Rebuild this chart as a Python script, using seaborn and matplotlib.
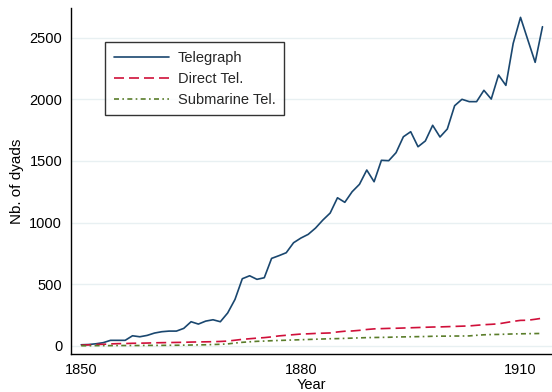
import numpy as np
import pandas as pd
import matplotlib
matplotlib.use("Agg")
import matplotlib.pyplot as plt
import seaborn as sns

years = list(range(1850, 1914))

telegraph = [8, 10, 16, 25, 44, 44, 44, 81, 73, 84,
             103, 114, 119, 119, 141, 195, 176, 200, 211, 195,
             266, 376, 544, 568, 539, 552, 709, 731, 755, 836,
             874, 904, 955, 1020, 1077, 1201, 1164, 1250, 1310, 1426,
             1331, 1505, 1502, 1567, 1696, 1737, 1615, 1662, 1789, 1694,
             1759, 1948, 2000, 1981, 1981, 2073, 2002, 2197, 2113, 2454,
             2665, 2482, 2300, 2589]

direct_tel = [5, 7, 10, 12, 15, 17, 18, 20, 21, 22,
              24, 25, 26, 27, 28, 30, 31, 32, 33, 35,
              38, 45, 52, 57, 62, 66, 72, 80, 85, 90,
              95, 97, 100, 102, 104, 112, 118, 120, 125, 132,
              137, 139, 141, 142, 144, 146, 148, 150, 152, 153,
              155, 157, 159, 161, 166, 171, 174, 178, 188, 198,
              206, 207, 215, 224]

submarine_tel = [0, 0, 1, 1, 1, 2, 2, 2, 2, 3,
                 3, 3, 4, 4, 5, 6, 7, 8, 10, 12,
                 15, 22, 28, 32, 36, 38, 41, 43, 45, 47,
                 49, 51, 53, 55, 57, 58, 60, 62, 64, 66,
                 67, 68, 69, 71, 72, 73, 74, 75, 77, 78,
                 78, 79, 79, 80, 85, 89, 91, 92, 94, 96,
                 97, 98, 99, 100]

series_names = ["Telegraph", "Direct Tel.", "Submarine Tel."]
x_ticks = list(range(1850, 1911, 10))
x_labels = ["1850", "", "", "1880", "", "", "1910"]
y_ticks = [0, 500, 1000, 1500, 2000, 2500]

df = pd.DataFrame({
    "Year": years * 3,
    "dyads": telegraph + direct_tel + submarine_tel,
    "series": [series_names[0]] * len(years)
              + [series_names[1]] * len(years)
              + [series_names[2]] * len(years),
})

sns.set_theme(style="white")
plt.rcParams["font.family"] = ["Liberation Sans", "DejaVu Sans"]

fig = plt.figure(figsize=(5.52, 3.92), dpi=100)
ax = fig.add_axes([0.1286, 0.0969, 0.8714, 0.8827])

palette = {"Telegraph": "#1a476f", "Direct Tel.": "#d0103a", "Submarine Tel.": "#5a7d2a"}
dashes = {"Telegraph": "", "Direct Tel.": (6, 3), "Submarine Tel.": (3, 2, 1, 2)}

sns.lineplot(data=df, x="Year", y="dyads", hue="series", style="series",
             palette=palette, dashes=dashes, linewidth=1.2, ax=ax,
             legend=True)

ax.set_xlim(1848.6, 1914.3)
ax.set_ylim(-67, 2741)
ax.set_xticks(x_ticks)
ax.set_xticklabels(x_labels)
ax.set_yticks(y_ticks)
ax.set_yticklabels([str(v) for v in y_ticks])
ax.tick_params(axis="both", length=3.8, width=1, color="black",
               labelsize=10.5, labelcolor="black", pad=2.5, direction="out")

ax.grid(axis="y", color="#e8f0f2", linewidth=1.0)
ax.set_axisbelow(True)
for side in ["top", "right"]:
    ax.spines[side].set_visible(False)
for side in ["left", "bottom"]:
    ax.spines[side].set_color("black")
    ax.spines[side].set_linewidth(1.0)

ax.set_xlabel("Year", fontsize=10.5, color="black", va="center")
ax.set_ylabel("Nb. of dyads", fontsize=11, color="black", va="center")
ax.xaxis.set_label_coords(0.499, -0.09)
ax.yaxis.set_label_coords(-0.112, 0.5)

leg = ax.legend(loc="upper left", bbox_to_anchor=(0.0707, 0.902),
                frameon=True, fancybox=False, fontsize=10.5,
                handlelength=3.8, borderpad=0.6, labelspacing=0.48,
                handletextpad=0.6, borderaxespad=0)
leg.get_frame().set_edgecolor("black")
leg.get_frame().set_linewidth(1.0)
leg.set_title(None)

fig.savefig("out.png", dpi=100, facecolor="white")
